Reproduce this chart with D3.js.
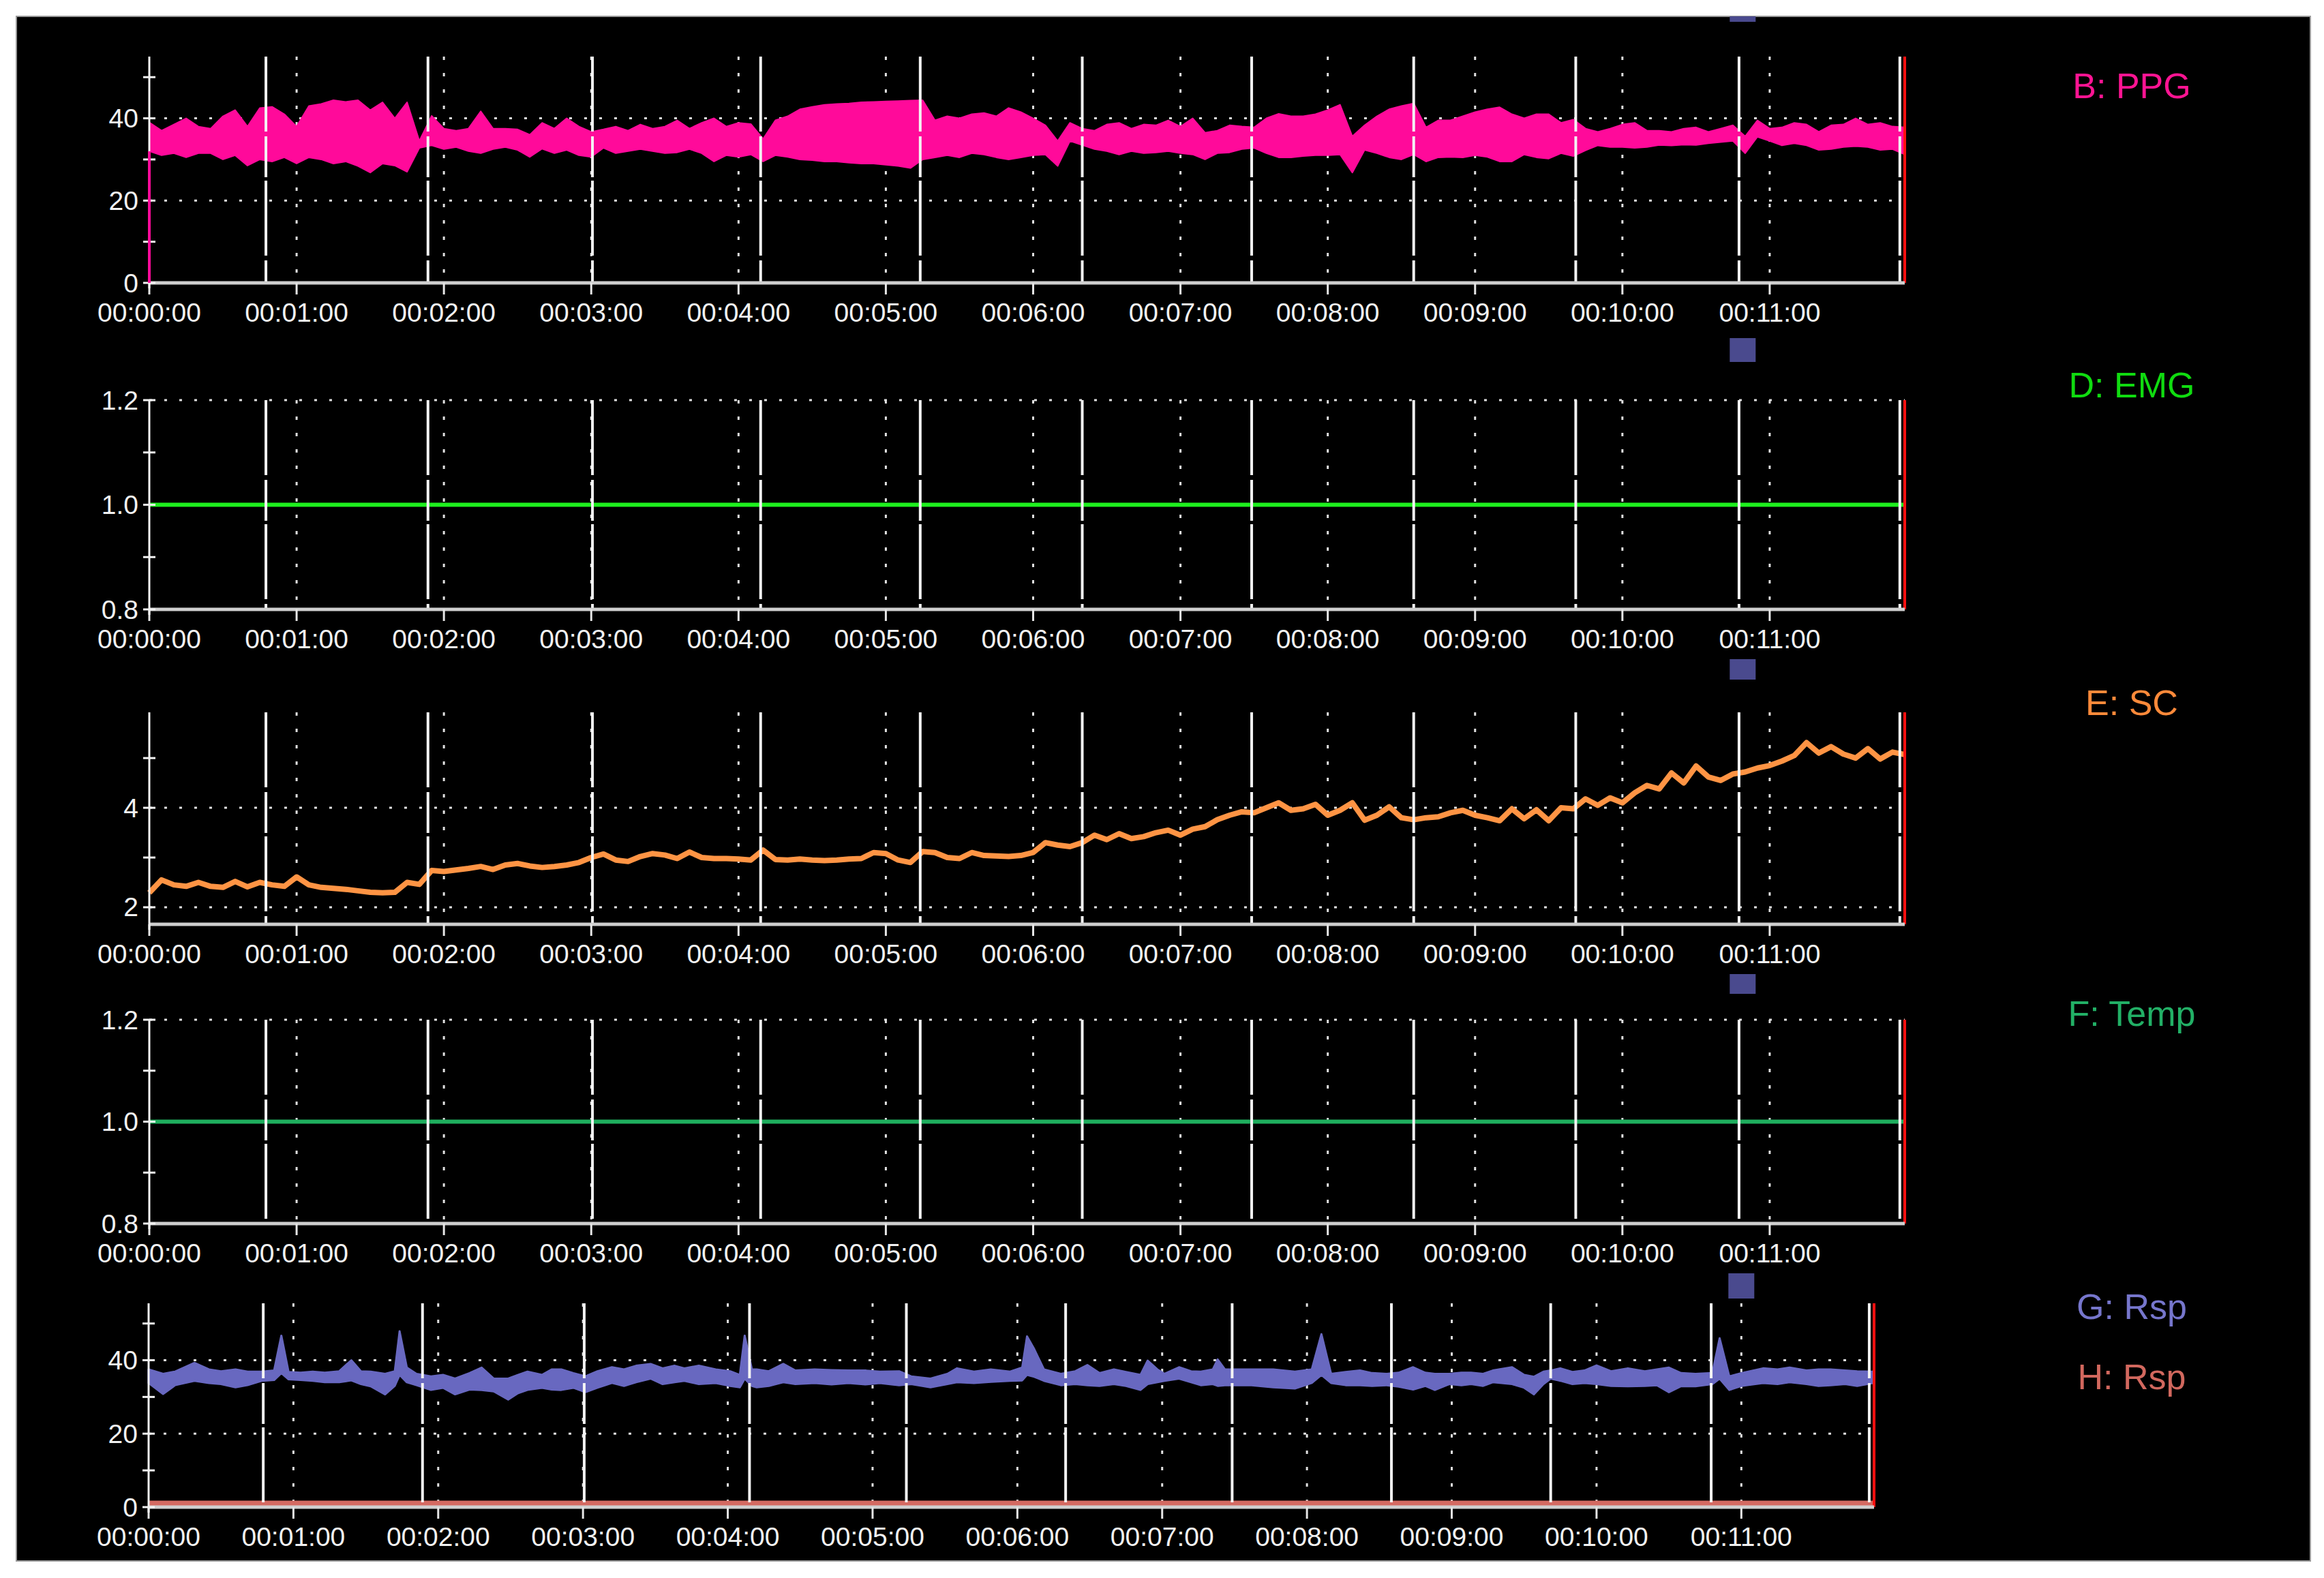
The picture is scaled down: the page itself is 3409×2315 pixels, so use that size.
<!DOCTYPE html>
<html>
<head>
<meta charset="utf-8">
<script src="https://cdn.jsdelivr.net/npm/d3@7/dist/d3.min.js"></script>
<style>
html, body { margin: 0; padding: 0; background: #ffffff; }
svg { display: block; }
text { font-family: "Liberation Sans", Arial, sans-serif; }
</style>
</head>
<body>
<svg id="chart" width="3409" height="2315"></svg>
<script>
// ---------------- DATA ----------------
const minuteTicks = [0, 1, 2, 3, 4, 5, 6, 7, 8, 9, 10, 11];
const timeLabels = ["00:00:00","00:01:00","00:02:00","00:03:00","00:04:00","00:05:00",
                    "00:06:00","00:07:00","00:08:00","00:09:00","00:10:00","00:11:00"];
const endTime = 715;                       // seconds
const eventTimes = [47.5, 113.5, 180.5, 249, 314, 380, 449, 515, 581, 647.5, 713];
const squareTimes = [649, 649, 649, 649, 660];

const channelNames = ["B: PPG", "D: EMG", "E: SC", "F: Temp", "G: Rsp", "H: Rsp"];

// y tick values
const ppgTicks = [0, 20, 40],        ppgMinor = [10, 30, 50];
const emgTicks = [0.8, 1.0, 1.2],    emgMinor = [0.9, 1.1];
const scTicks = [2, 4],              scMinor = [3, 5];
const tempTicks = [0.8, 1.0, 1.2],   tempMinor = [0.9, 1.1];
const rspTicks = [0, 20, 40],        rspMinor = [10, 30, 50];

// PPG envelope, one sample every 5 s (0 .. 715 s)
const ppgStep = 5;
const ppgHigh = [
  39, 37, 38.5, 40, 38, 37.5, 40.5, 42, 38, 42.5, 42.8, 41,
  38, 43, 43.5, 44.4, 44, 44.4, 42, 43.9, 40, 43.9, 34.5, 40.6,
  37.5, 37, 37.5, 41.7, 37.5, 37.5, 37.3, 36, 38.9, 37.5, 40, 38,
  36.7, 37.3, 38, 37, 38.5, 37.5, 38, 39.5, 37.5, 38.9, 40, 38,
  38.9, 38.6, 35, 39.5, 40.5, 42.2, 42.8, 43.3, 43.5, 43.6, 43.9, 44,
  44.1, 44.2, 44.3, 44.4, 39.5, 40.5, 40, 41, 41.3, 40.5, 42.5, 41.5,
  40, 38.3, 34.5, 38.9, 37.5, 37, 38.5, 38.9, 37.5, 38.5, 38.3, 39.5,
  38, 40, 36.5, 37, 38.3, 38, 37.8, 40, 41.1, 40.5, 40.5, 41,
  42, 43.3, 35.6, 38.3, 40.5, 42.2, 43, 43.6, 37.8, 39.5, 39.5, 40.5,
  41.5, 42.2, 42.7, 41, 40, 41, 41, 38.9, 39.7, 37.5, 36.7, 37.5,
  38.5, 38.9, 37, 37, 36.7, 37.5, 37.8, 36.7, 37.5, 38.3, 35.6, 39.5,
  37.5, 37.8, 38.9, 38.5, 36.7, 38.3, 38.5, 40, 38.5, 38.9, 38, 37.8
];
const ppgLow = [
  32, 31, 31.5, 30.5, 31.5, 31.5, 30, 31, 28.5, 30, 29.5, 30.5,
  29, 30.5, 30, 29, 29.5, 28.4, 26.8, 29, 28.5, 27, 32.8, 33.4,
  32.5, 33, 32, 31.5, 32.5, 33, 32.3, 30.6, 32.6, 31.5, 32.3, 31,
  30.6, 32.8, 31.5, 32, 32.5, 32, 31.5, 31.7, 32.5, 31.5, 29.5, 31,
  30.6, 31.2, 29.5, 31, 30.6, 30, 29.8, 29.5, 29.5, 29.2, 29, 29,
  28.7, 28.4, 27.9, 30, 30.5, 31, 30.5, 31.5, 31.2, 30.5, 30, 30.5,
  31, 31.2, 28.4, 34.5, 33.5, 32.5, 32, 31.2, 32, 31.5, 31.7, 32,
  31.5, 31.2, 30, 31.5, 31.7, 32.5, 32.8, 31.5, 30.5, 30.5, 30.8, 31,
  31, 31.2, 26.8, 32.3, 31.5, 30.5, 30, 31.2, 29.5, 30.5, 30.6, 30.5,
  31, 30.6, 29.5, 29.5, 31.2, 30.5, 30.2, 31.5, 30.8, 32.2, 33.4, 33,
  33, 32.8, 33, 33.5, 33.4, 33.6, 33.5, 33.9, 34.2, 34.5, 31.5, 35.5,
  34.5, 33.4, 33.9, 33.4, 32.3, 32.5, 33, 33.2, 33, 32.3, 32.5, 31.2
];
const ppgOnset = [0, 32];   // trace rises from 0 at the start

// EMG and Temp (flat)
const emgTime = [0, 715],  emgValue = [1.0, 1.0];
const tempTime = [0, 715], tempValue = [1.0, 1.0];

// SC, one sample every 5 s
const scStep = 5;
const scValue = [
  2.29, 2.55, 2.45, 2.42, 2.5, 2.42, 2.4, 2.52, 2.41, 2.5, 2.45, 2.42,
  2.61, 2.45, 2.4, 2.38, 2.36, 2.33, 2.3, 2.29, 2.3, 2.5, 2.46, 2.74,
  2.72, 2.75, 2.78, 2.82, 2.76, 2.85, 2.88, 2.83, 2.8, 2.82, 2.85, 2.9,
  3.0, 3.07, 2.95, 2.92, 3.02, 3.08, 3.05, 2.98, 3.11, 3.0, 2.98, 2.98,
  2.97, 2.95, 3.15, 2.96, 2.95, 2.97, 2.95, 2.94, 2.95, 2.97, 2.98, 3.1,
  3.08, 2.95, 2.9, 3.12, 3.1, 3.0, 2.98, 3.1, 3.04, 3.03, 3.02, 3.04,
  3.1, 3.3, 3.25, 3.22, 3.3, 3.45, 3.36, 3.48, 3.38, 3.42, 3.5, 3.55,
  3.45, 3.57, 3.62, 3.76, 3.85, 3.92, 3.9, 4.0, 4.1, 3.95, 3.98, 4.07,
  3.85, 3.95, 4.1, 3.75, 3.85, 4.02, 3.8, 3.76, 3.8, 3.82, 3.9, 3.95,
  3.85, 3.8, 3.74, 3.98, 3.78, 3.96, 3.74, 4.0, 3.98, 4.18, 4.05, 4.2,
  4.1, 4.3, 4.45, 4.38, 4.7, 4.5, 4.84, 4.62, 4.55, 4.68, 4.72, 4.8,
  4.85, 4.94, 5.05, 5.31, 5.1, 5.23, 5.08, 5.0, 5.19, 4.98, 5.12, 5.07
];

// Respiration G (envelope at irregular times)
const rspTime = [0,6,11,19,25,30,36,41,47,52,55,58,63,68,73,79,84,88,92,98,102,104,107,111,117,122,127,133,138,143,149,153,157,163,167,171,176,181,186,192,197,202,208,213,218,222,228,235,241,245,247,250,252,257,263,268,276,283,290,297,303,311,316,324,331,335,342,349,357,362,364,367,371,378,384,389,394,400,405,411,414,418,421,427,432,436,441,443,446,449,457,466,475,482,486,490,496,502,507,513,518,524,529,533,539,544,548,553,557,565,570,574,578,581,585,590,595,600,606,613,620,625,630,635,641,648,651,655,660,669,675,680,687,692,697,703,708,714.6];
const rspHigh = [37.5,36.3,36.9,39.3,37.5,37.0,37.5,36.9,36.9,37.2,46.7,36.8,36.6,36.9,36.6,37.0,40.0,37.0,36.9,36.3,37.0,47.9,38.0,36.3,35.6,36.0,35.0,36.5,38.0,35.0,35.0,36.0,36.9,36.0,37.5,37.5,36.5,35.6,37.0,38.1,37.5,38.5,39.0,37.8,38.5,37.8,38.5,37.5,37.0,36.0,46.7,37.5,37.5,37.0,39.0,37.2,37.5,37.3,37.2,37.2,36.9,37.0,35.6,35.0,36.3,37.8,36.9,37.5,36.9,38.0,46.5,43.0,37.5,36.3,37.0,38.7,36.5,37.5,36.8,36.0,39.9,37.5,36.3,38.1,37.0,36.9,37.5,40.2,37.5,37.5,37.5,37.5,36.9,37.5,47.1,36.3,36.8,37.2,36.5,36.3,36.6,38.1,36.6,36.3,36.3,36.6,36.6,36.3,37.2,38.1,36.0,35.5,36.9,37.2,37.8,36.8,37.2,38.6,37.0,37.8,37.0,37.5,38.0,36.5,36.3,36.5,46.0,35.6,36.5,37.8,37.5,38.0,37.2,37.5,37.5,37.2,37.0,36.9];
const rspLow = [33.8,30.8,33.2,34.4,33.8,33.5,32.6,33.2,34.4,34.6,36.5,34.8,34.6,34.4,34.0,34.0,34.5,33.5,32.9,30.7,33.0,36.0,34.0,33.2,31.9,32.5,30.7,32.0,31.9,31.5,29.3,31.0,31.9,32.5,32.0,31.9,32.5,31.3,32.5,33.8,33.0,34.0,35.0,33.5,34.0,34.4,33.5,33.8,33.0,32.6,35.0,33.0,32.6,33.0,34.0,33.5,33.8,33.4,33.8,33.4,33.8,33.2,33.5,32.6,33.5,34.0,33.8,34.1,34.4,34.5,36.0,35.5,34.4,33.2,33.5,33.2,33.0,33.5,33.0,31.9,33.5,34.0,34.4,35.0,34.0,33.2,33.5,33.0,33.2,33.2,33.2,32.6,32.3,33.8,36.0,33.8,33.2,33.2,33.0,33.2,32.8,32.0,33.0,31.9,33.5,33.2,33.5,33.0,34.0,33.5,32.5,30.7,33.5,35.0,34.4,33.5,33.8,33.5,33.0,32.9,33.0,33.2,31.3,32.9,32.9,33.5,35.0,31.9,33.0,33.8,33.5,34.0,33.5,33.0,33.2,33.5,33.0,33.8];

// Respiration H (flat at zero)
const rsp2Time = [0, 715], rsp2Value = [0, 0];

// ---------------- LAYOUT / STYLE ----------------
const svg = d3.select("#chart");
const BG = { x: 24, y: 24, w: 3365, h: 2266 };
const labelX = 3127;
const FONT = 39;

svg.append("defs").append("clipPath").attr("id", "bgclip")
  .append("rect").attr("x", BG.x).attr("y", BG.y).attr("width", BG.w).attr("height", BG.h);

svg.append("rect").attr("x", BG.x).attr("y", BG.y).attr("width", BG.w).attr("height", BG.h)
  .attr("fill", "#000000").attr("stroke", "#9a9a9a").attr("stroke-width", 2);

const panels = [
  { x0: 219, x1: 2794, top: 83,   bot: 415,  domain: [0, 55],       ticks: ppgTicks,  minor: ppgMinor,  grid: [20, 40],   fmt: d3.format("d"),   sq: [-6, 32] },
  { x0: 219, x1: 2794, top: 587,  bot: 894,  domain: [0.8, 1.2],    ticks: emgTicks,  minor: emgMinor,  grid: [1.2],      fmt: d3.format(".1f"), sq: [496, 531] },
  { x0: 219, x1: 2794, top: 1045, bot: 1356, domain: [1.657, 5.92], ticks: scTicks,   minor: scMinor,   grid: [2, 4],     fmt: d3.format("d"),   sq: [967, 997] },
  { x0: 219, x1: 2794, top: 1496, bot: 1795, domain: [0.8, 1.2],    ticks: tempTicks, minor: tempMinor, grid: [1.2, 1.0], fmt: d3.format(".1f"), sq: [1429, 1458] },
  { x0: 218, x1: 2749, top: 1912, bot: 2211, domain: [0, 55.5],     ticks: rspTicks,  minor: rspMinor,  grid: [20, 40],   fmt: d3.format("d"),   sq: [1868, 1905] }
];

panels.forEach((p, pi) => {
  p.x = d3.scaleLinear().domain([0, endTime]).range([p.x0, p.x1]);
  p.y = d3.scaleLinear().domain(p.domain).range([p.bot, p.top]);
  p.g = svg.append("g");
  const g = p.g;

  // horizontal dotted grid
  g.selectAll(null).data(p.grid).enter().append("line")
    .attr("x1", p.x0).attr("x2", p.x1)
    .attr("y1", d => p.y(d)).attr("y2", d => p.y(d))
    .attr("stroke", "#e0e0e0").attr("stroke-width", 3)
    .attr("stroke-dasharray", "4,18");

  // vertical dotted minute grid
  g.selectAll(null).data(minuteTicks.slice(1)).enter().append("line")
    .attr("x1", d => p.x(d * 60)).attr("x2", d => p.x(d * 60))
    .attr("y1", p.top).attr("y2", p.bot)
    .attr("stroke", "#e0e0e0").attr("stroke-width", 3)
    .attr("stroke-dasharray", "5,19");

  p.data = g.append("g");

  // event markers
  g.selectAll(null).data(eventTimes).enter().append("line")
    .attr("x1", d => p.x(d)).attr("x2", d => p.x(d))
    .attr("y1", p.top).attr("y2", p.bot)
    .attr("stroke", "#f4f4f4").attr("stroke-width", 4)
    .attr("stroke-dasharray", "110,7,60,5");

  // red end line
  g.append("line")
    .attr("x1", p.x(endTime)).attr("x2", p.x(endTime))
    .attr("y1", p.top).attr("y2", p.bot)
    .attr("stroke", "#ff1010").attr("stroke-width", 4);

  // x axis
  g.append("line").attr("x1", p.x0).attr("x2", p.x(endTime))
    .attr("y1", p.bot).attr("y2", p.bot)
    .attr("stroke", "#cfcfcf").attr("stroke-width", 5);
  g.selectAll(null).data(minuteTicks).enter().append("line")
    .attr("x1", d => p.x(d * 60)).attr("x2", d => p.x(d * 60))
    .attr("y1", p.bot).attr("y2", p.bot + 17)
    .attr("stroke", "#e6e6e6").attr("stroke-width", 3);
  g.selectAll(null).data(minuteTicks).enter().append("text")
    .attr("x", d => p.x(d * 60)).attr("y", p.bot + 43)
    .attr("text-anchor", "middle").attr("dominant-baseline", "central")
    .attr("font-size", FONT).attr("fill", "#f2f2f2")
    .text((d, i) => timeLabels[i]);

  // y axis
  g.append("line").attr("x1", p.x0).attr("x2", p.x0)
    .attr("y1", p.top).attr("y2", p.bot + 8)
    .attr("stroke", "#f2f2f2").attr("stroke-width", 3);
  g.selectAll(null).data(p.ticks.concat(p.minor)).enter().append("line")
    .attr("x1", p.x0 - 9).attr("x2", p.x0 + 9)
    .attr("y1", d => p.y(d)).attr("y2", d => p.y(d))
    .attr("stroke", "#f2f2f2").attr("stroke-width", 3);
  g.selectAll(null).data(p.ticks).enter().append("text")
    .attr("x", p.x0 - 16).attr("y", d => p.y(d))
    .attr("text-anchor", "end").attr("dominant-baseline", "central")
    .attr("font-size", FONT).attr("fill", "#f2f2f2")
    .text(d => p.fmt(d));

  // marker square
  svg.append("rect").attr("clip-path", "url(#bgclip)")
    .attr("x", p.x(squareTimes[pi]) - 19).attr("width", 38)
    .attr("y", p.sq[0]).attr("height", p.sq[1] - p.sq[0])
    .attr("fill", "#4a4a8e");
});

// ---------------- SERIES ----------------
// PPG band
{
  const p = panels[0];
  const area = d3.area()
    .x((d, i) => p.x(i * ppgStep))
    .y0((d, i) => p.y(ppgLow[i]))
    .y1((d, i) => p.y(ppgHigh[i]));
  p.data.append("path").datum(ppgHigh).attr("d", area)
    .attr("fill", "#ff0a9a").attr("stroke", "#ff0a9a").attr("stroke-width", 2).attr("stroke-linejoin", "round");
  p.g.append("line")
    .attr("x1", p.x(0)).attr("x2", p.x(0))
    .attr("y1", p.y(ppgOnset[0])).attr("y2", p.y(ppgOnset[1]))
    .attr("stroke", "#ff0a9a").attr("stroke-width", 4);
}
// EMG
{
  const p = panels[1];
  const line = d3.line().x((d, i) => p.x(emgTime[i])).y(d => p.y(d));
  p.data.append("path").datum(emgValue).attr("d", line)
    .attr("fill", "none").attr("stroke", "#1ef01e").attr("stroke-width", 6);
}
// SC
{
  const p = panels[2];
  const line = d3.line().x((d, i) => p.x(i * scStep)).y(d => p.y(d));
  p.data.append("path").datum(scValue).attr("d", line)
    .attr("fill", "none").attr("stroke", "#ff9444").attr("stroke-width", 8)
    .attr("stroke-linejoin", "round");
}
// Temp
{
  const p = panels[3];
  const line = d3.line().x((d, i) => p.x(tempTime[i])).y(d => p.y(d));
  p.data.append("path").datum(tempValue).attr("d", line)
    .attr("fill", "none").attr("stroke", "#1fae5e").attr("stroke-width", 6);
}
// Rsp G and H
{
  const p = panels[4];
  const area = d3.area()
    .x((d, i) => p.x(rspTime[i]))
    .y0((d, i) => p.y(rspLow[i]))
    .y1((d, i) => p.y(rspHigh[i]));
  p.data.append("path").datum(rspHigh).attr("d", area)
    .attr("fill", "#6868c0").attr("stroke", "#6868c0").attr("stroke-width", 3).attr("stroke-linejoin", "round");
  const line = d3.line().x((d, i) => p.x(rsp2Time[i])).y(d => p.y(d) - 5);
  p.data.append("path").datum(rsp2Value).attr("d", line)
    .attr("fill", "none").attr("stroke", "#d46a62").attr("stroke-width", 9);
}

// ---------------- CHANNEL LABELS ----------------
const labelYs = [126, 565, 1031, 1487, 1917, 2020];
const labelColors = ["#ff1493", "#10dc10", "#ff8a3a", "#22b066", "#7676cc", "#d2685e"];
svg.selectAll(null).data(channelNames).enter().append("text")
  .attr("x", labelX).attr("y", (d, i) => labelYs[i])
  .attr("text-anchor", "middle").attr("dominant-baseline", "central")
  .attr("font-size", 52).attr("fill", (d, i) => labelColors[i])
  .text(d => d);
</script>
</body>
</html>
